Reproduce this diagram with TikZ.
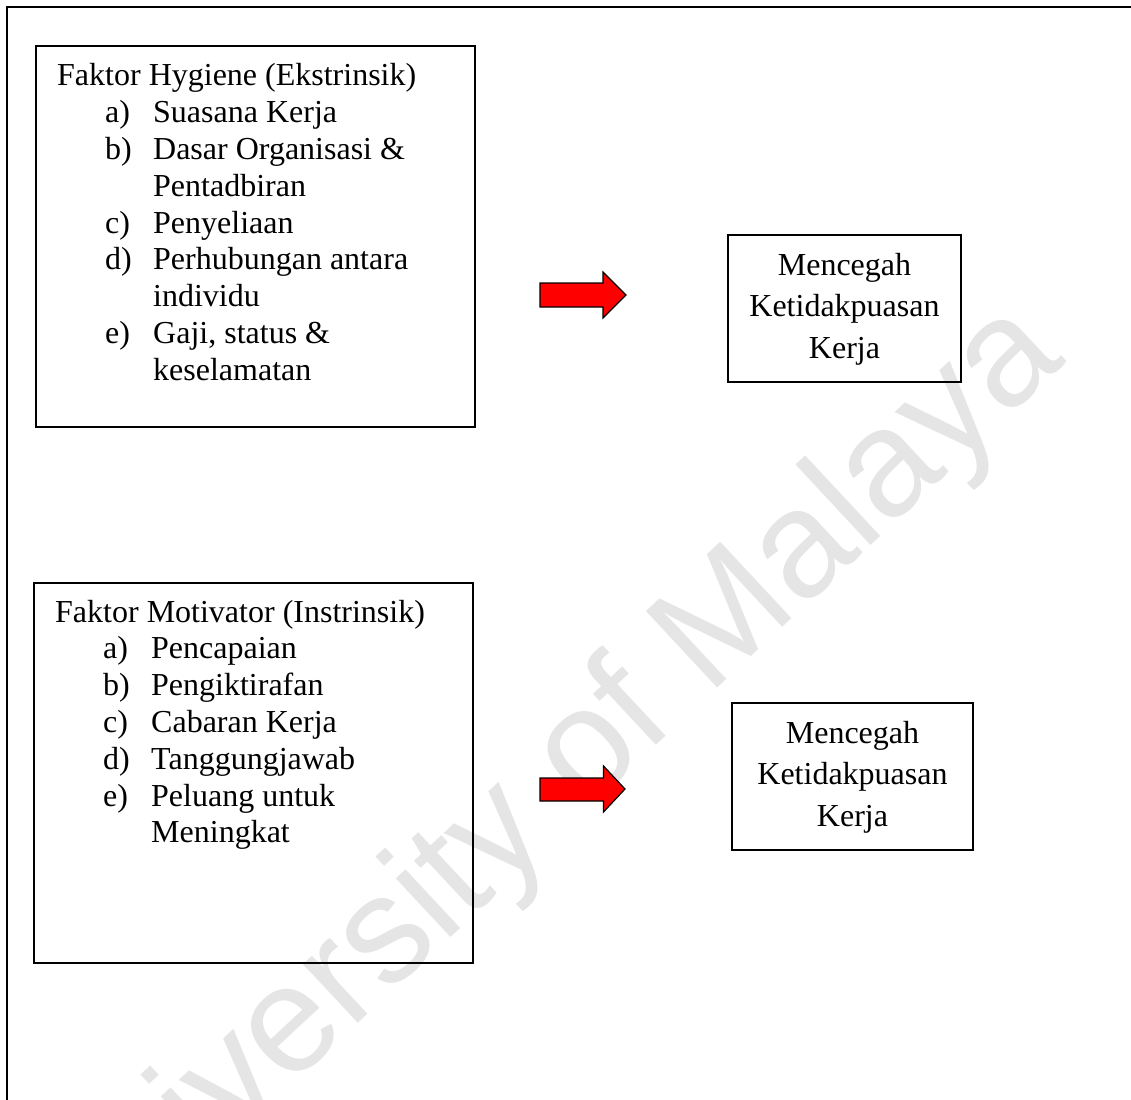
\documentclass[tikz,border=0pt]{standalone}
\usepackage{fontspec}
\setmainfont{Liberation Serif}
\newfontfamily\wmfont{Liberation Sans}
\newcommand{\itemlbl}[1]{\hspace*{48pt}\makebox[48pt][l]{#1}}
\newcommand{\itemcont}{\hspace*{96pt}}
\begin{document}
\begin{tikzpicture}[x=1pt,y=-1pt,
  boxst/.style={draw=black, line width=1.3pt, inner sep=0pt, outer sep=0pt, anchor=north west},
  listst/.style={anchor=base west, inner sep=0pt, font=\fontsize{32}{36.8}\selectfont},
  ctrst/.style={anchor=base, inner sep=0pt, font=\fontsize{32}{41.5}\selectfont},
  blockarrow/.style={fill=red, draw=black, line width=1.2pt, line join=miter},
  framest/.style={draw=black, line width=2pt}]
\useasboundingbox (0,0) rectangle (1131,1099);
\clip (0,0) rectangle (1131,1099);
% watermark
\node[rotate=43, text=black!10, inner sep=0pt, font=\wmfont\fontsize{152}{152}\selectfont] (wm) at (540,800) {University of Malaya};
% outer frame
\draw[framest] (1140,7) -- (6.5,7) -- (6.5,1110);
% top row
\node[boxst, minimum width=439pt, minimum height=381pt] (hyg) at (36,46) {};
\node[listst] (hygtxt) at (57,86) {\begin{tabular}[t]{@{}l@{}}
Faktor Hygiene (Ekstrinsik)\\
\itemlbl{a)}Suasana Kerja\\
\itemlbl{b)}Dasar Organisasi \&\\
\itemcont Pentadbiran\\
\itemlbl{c)}Penyeliaan\\
\itemlbl{d)}Perhubungan antara\\
\itemcont individu\\
\itemlbl{e)}Gaji, status \&\\
\itemcont keselamatan
\end{tabular}};
\draw[blockarrow] (540,283) -- (603,283) -- (603,272) -- (626,295) -- (603,318) -- (603,307) -- (540,307) -- cycle;
\node[boxst, minimum width=233pt, minimum height=147pt] (out1) at (728,235) {};
\node[ctrst] (out1txt) at (844.5,275) {\begin{tabular}[t]{@{}c@{}}Mencegah\\Ketidakpuasan\\Kerja\end{tabular}};
% bottom row
\node[boxst, minimum width=439pt, minimum height=380pt] (mot) at (34,583) {};
\node[listst] (mottxt) at (55,622) {\begin{tabular}[t]{@{}l@{}}
Faktor Motivator (Instrinsik)\\
\itemlbl{a)}Pencapaian\\
\itemlbl{b)}Pengiktirafan\\
\itemlbl{c)}Cabaran Kerja\\
\itemlbl{d)}Tanggungjawab\\
\itemlbl{e)}Peluang untuk\\
\itemcont Meningkat
\end{tabular}};
\draw[blockarrow] (540,778) -- (603.5,778) -- (603.5,766) -- (625,789) -- (603.5,812) -- (603.5,801) -- (540,801) -- cycle;
\node[boxst, minimum width=241pt, minimum height=147pt] (out2) at (732,703) {};
\node[ctrst] (out2txt) at (852.5,743) {\begin{tabular}[t]{@{}c@{}}Mencegah\\Ketidakpuasan\\Kerja\end{tabular}};
\end{tikzpicture}
\end{document}
